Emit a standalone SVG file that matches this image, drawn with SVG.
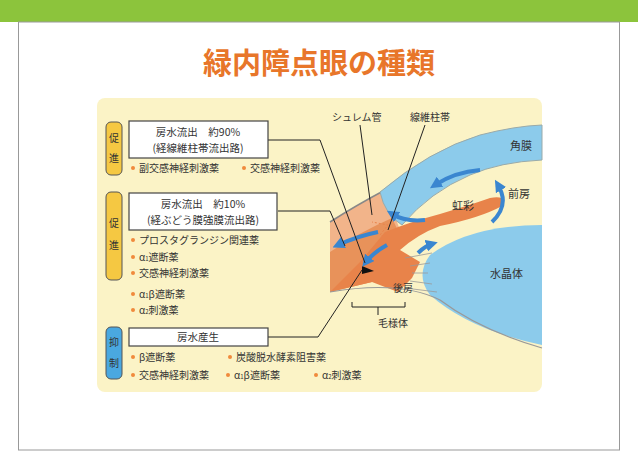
<svg xmlns="http://www.w3.org/2000/svg" width="638" height="451" viewBox="0 0 638 451">
<defs>
<style>
.t{font-family:"Noto Sans CJK JP","Noto Sans",sans-serif;fill:#333}
.b{fill:#fff;stroke:#444;stroke-width:1.2}
.dot{fill:#F08A3C}
.ln{fill:none;stroke:#222;stroke-width:1}
.arr{fill:none;stroke:#3A86D0;stroke-width:4}
</style>
<marker id="ah" viewBox="0 0 10 10" refX="5" refY="5" markerWidth="3" markerHeight="3" orient="auto"><path d="M0,0L10,5L0,10z" fill="#3A86D0"/></marker>
</defs>
<rect width="638" height="451" fill="#fff"/>
<rect x="0" y="0" width="638" height="22" fill="#8CC43C"/>
<rect x="18.5" y="22" width="601" height="428" fill="none" stroke="#999"/>
<text x="319" y="74" text-anchor="middle" font-size="29" font-weight="bold" style="font-family:'Noto Sans CJK JP',sans-serif" fill="#E8762A">緑内障点眼の種類</text>
<rect x="97" y="98" width="445" height="294" rx="8" fill="#FBF3C6"/>

<g id="eye">
<path d="M330,222 Q355,206 385,190 L400,230 L372,280 L330,292 Z" fill="#F2B48A"/>
<path d="M330,252 Q360,232 392,218 L400,235 L372,282 L330,292 Z" fill="#E8925A"/>
<path d="M330,222 Q355,206 385,190" stroke="#888" stroke-width="1.5" fill="none"/>
<path d="M380,192 Q430,150 480,135 Q515,126 542,125 L542,160 Q500,162 470,175 Q430,192 402,225 Q385,215 380,192 Z" fill="#8CCBEB" stroke="#9AA" stroke-width="1"/>
<path d="M542,225 Q470,225 430,255 Q415,275 430,295 Q470,330 542,345 Z" fill="#8CCBEB"/>
<path d="M385,232 Q410,222 440,214 Q470,205 490,198 Q508,195 502,206 Q480,218 440,226 Q418,234 400,250 L420,262 L412,278 L398,292 L372,282 L330,292 L360,262 Z" fill="#E8834A"/>
<path d="M405,258 L432,253 M410,266 L430,263 M412,273 L428,273 M410,281 L432,284 M405,288 L437,292" stroke="#999" stroke-width="0.8"/>
<path d="M330,292 Q400,280 440,300 Q480,330 542,348" stroke="#999" stroke-width="1.2" fill="none"/>
<path d="M362,274 L374,271 L362,266 Z" fill="#111"/>
<path d="M395,240 L380,235 L388,225 L372,222" stroke="#E8834A" stroke-width="1" stroke-dasharray="2,2" fill="none"/>
<path class="arr" d="M480,170 Q455,172 435,185" marker-end="url(#ah)"/>
<path class="arr" d="M425,220 Q405,222 392,214" marker-end="url(#ah)"/>
<path class="arr" d="M492,222 Q510,205 498,185" marker-end="url(#ah)"/>
<path class="arr" d="M418,253 Q425,246 432,244" marker-end="url(#ah)"/>
<path class="arr" d="M378,232 Q358,236 338,245" marker-end="url(#ah)"/>
<path class="arr" d="M387,245 Q374,252 366,262" marker-end="url(#ah)"/>
<text class="t" x="452" y="210" font-size="11">虹彩</text>
<text class="t" x="510" y="150" font-size="11">角膜</text>
<text class="t" x="508" y="198" font-size="11">前房</text>
<text class="t" x="490" y="278" font-size="11">水晶体</text>
<text class="t" x="393" y="292" font-size="10">後房</text>
<text class="t" x="378" y="327" font-size="10">毛様体</text>
<text class="t" x="332" y="121" font-size="10">シュレム管</text>
<text class="t" x="410" y="121" font-size="10">線維柱帯</text>
<path class="ln" d="M352,302 L352,307 L405,307 L405,302 M378,307 L378,315"/>
<path class="ln" d="M360,125 L372,215 M425,125 L388,230"/>
</g>

<g id="connectors">
<path class="ln" d="M268,140 L320,140 L365,263"/>
<path class="ln" d="M278,211 L330,211 L345,246"/>
<path class="ln" d="M268,337 L318,337 L362,270"/>
</g>

<g id="n1">
<rect x="106" y="122" width="16" height="53" rx="5" fill="#F5C842" stroke="#555"/>
<text class="t" x="114" y="142" font-size="10" text-anchor="middle">促</text>
<text class="t" x="114" y="162" font-size="10" text-anchor="middle">進</text>
<rect class="b" x="129" y="121" width="139" height="37"/>
<text class="t" x="198" y="136" font-size="10.5" text-anchor="middle">房水流出　約90%</text>
<text class="t" x="198" y="152" font-size="10.5" text-anchor="middle">(経線維柱帯流出路)</text>
<circle class="dot" cx="133" cy="168" r="2"/><text class="t" x="139" y="172" font-size="10">副交感神経刺激薬</text>
<circle class="dot" cx="244" cy="168" r="2"/><text class="t" x="250" y="172" font-size="10">交感神経刺激薬</text>
</g>
<g id="n2">
<rect x="106" y="192" width="16" height="88" rx="5" fill="#F5C842" stroke="#555"/>
<text class="t" x="114" y="227" font-size="10" text-anchor="middle">促</text>
<text class="t" x="114" y="249" font-size="10" text-anchor="middle">進</text>
<rect class="b" x="129" y="193" width="148" height="37"/>
<text class="t" x="203" y="208" font-size="10.5" text-anchor="middle">房水流出　約10%</text>
<text class="t" x="203" y="224" font-size="10.5" text-anchor="middle">(経ぶどう膜強膜流出路)</text>
<circle class="dot" cx="133" cy="240" r="2"/><text class="t" x="139" y="244" font-size="10">プロスタグランジン関連薬</text>
<circle class="dot" cx="133" cy="257" r="2"/><text class="t" x="139" y="261" font-size="10">α<tspan font-size="6">1</tspan>遮断薬</text>
<circle class="dot" cx="133" cy="273" r="2"/><text class="t" x="139" y="277" font-size="10">交感神経刺激薬</text>
<circle class="dot" cx="133" cy="294" r="2"/><text class="t" x="139" y="298" font-size="10">α<tspan font-size="6">1</tspan>β遮断薬</text>
<circle class="dot" cx="133" cy="310" r="2"/><text class="t" x="139" y="314" font-size="10">α<tspan font-size="6">2</tspan>刺激薬</text>
</g>
<g id="n3">
<rect x="106" y="327" width="16" height="52" rx="5" fill="#4AA8E0" stroke="#555"/>
<text class="t" x="114" y="346" font-size="10" text-anchor="middle">抑</text>
<text class="t" x="114" y="367" font-size="10" text-anchor="middle">制</text>
<rect class="b" x="129" y="328" width="139" height="18"/>
<text class="t" x="198" y="341" font-size="10.5" text-anchor="middle">房水産生</text>
<circle class="dot" cx="133" cy="357" r="2"/><text class="t" x="139" y="361" font-size="10">β遮断薬</text>
<circle class="dot" cx="230" cy="357" r="2"/><text class="t" x="236" y="361" font-size="10">炭酸脱水酵素阻害薬</text>
<circle class="dot" cx="133" cy="375" r="2"/><text class="t" x="139" y="379" font-size="10">交感神経刺激薬</text>
<circle class="dot" cx="228" cy="375" r="2"/><text class="t" x="234" y="379" font-size="10">α<tspan font-size="6">1</tspan>β遮断薬</text>
<circle class="dot" cx="316" cy="375" r="2"/><text class="t" x="322" y="379" font-size="10">α<tspan font-size="6">2</tspan>刺激薬</text>
</g>
</svg>
